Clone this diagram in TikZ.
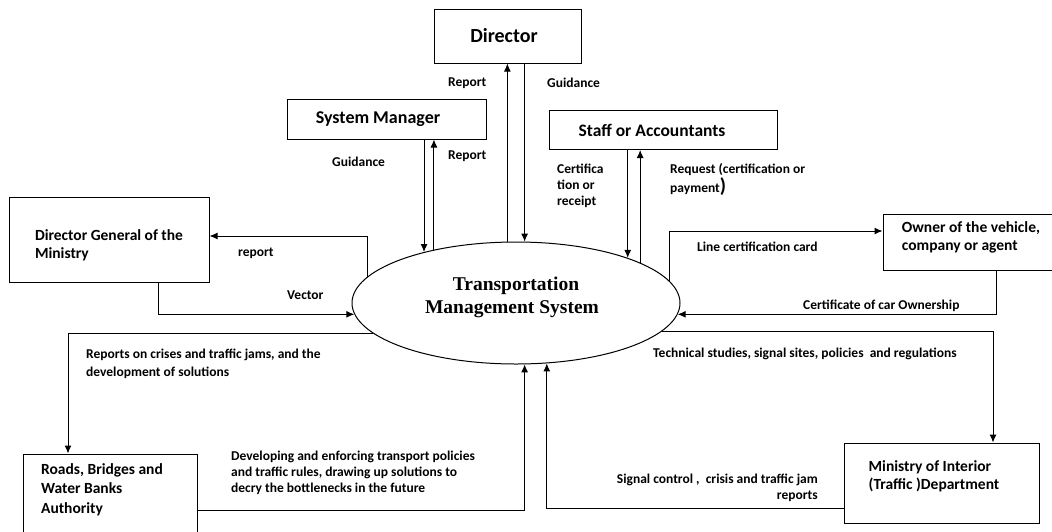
\documentclass[tikz,border=0pt]{standalone}
\usepackage{fontspec}
\setmainfont{Carlito}
\newfontfamily\tmsfont{Liberation Serif}
\usetikzlibrary{shapes.geometric}
\usetikzlibrary{positioning}
\usetikzlibrary{arrows.meta}

\tikzset{
  entity/.style={draw, rectangle, line width=1pt, inner sep=0pt, align=left,
    font=\fontsize{15.5}{18}\selectfont\bfseries},
  flow/.style={-{Latex[length=8pt,width=7pt]}, line width=1pt},
  lbl/.style={inner sep=0pt, align=left, anchor=west,
    font=\fontsize{13.5}{16}\selectfont\bfseries},
}

\begin{document}
\begin{tikzpicture}[x=1pt, y=-1pt]
   \useasboundingbox (0,0) rectangle (1052,531);

   % the system
   \node[draw, ellipse, line width=1pt, minimum width=328pt, minimum height=122pt,
     inner sep=0pt, align=center, font=\tmsfont\fontsize{19.5}{23}\selectfont\bfseries]
     (tms) at (516,303) {Transportation\\Management System\rule{8pt}{0pt}\\[-8pt]};

   % external entities
   \node[entity, minimum width=147pt, minimum height=54pt, align=center,
     font=\fontsize{20}{20}\selectfont\bfseries] (dir) at (508,36) {Director\hspace*{8pt}};
   \node[entity, minimum width=199pt, minimum height=40pt,
     font=\fontsize{18}{20}\selectfont\bfseries] (sm) at (387,119) {System Manager\hspace*{18pt}};
   \node[entity, minimum width=228pt, minimum height=39pt,
     font=\fontsize{17.5}{20}\selectfont\bfseries] (sta) at (663,130) {Staff or Accountants\hspace*{22pt}};
   \node[entity, minimum width=200pt, minimum height=85pt] (dgm) at (109,240)
     {\rule{0pt}{21.5pt}Director General of the\\Ministry};
   \node[entity, minimum width=176pt, minimum height=56pt] (own) at (971,242)
     {Owner of the vehicle,\\company or agent\\[-6pt]};
   \node[entity, minimum width=174pt, minimum height=80pt, font=\fontsize{15.5}{19.5}\selectfont\bfseries]
     (rba) at (110,494) {Roads, Bridges and\hspace*{16pt}\\Water Banks\\Authority\\[-8pt]};
   \node[entity, minimum width=195pt, minimum height=80pt] (mid) at (942,483)
     {Ministry of Interior\\(Traffic )Department\rule{16pt}{0pt}\\[-2pt]};

   % flows with director and system manager
   \draw[flow] (tms.98) -- (tms.98 |- dir.south);
   \draw[flow] (tms.82 |- dir.south) -- (tms.82);
   \draw[flow] (sm.south -| tms.151) -- (tms.151);
   \draw[flow] (tms.147) -- (tms.147 |- sm.south);
   \node[lbl] (l-rep1) at (448,83) {Report};
   \node[lbl] (l-gui1) at (547,83) {Guidance};
   \node[lbl] (l-gui2) at (332,162) {Guidance};
   \node[lbl] (l-rep2) at (448,156) {Report};

   % flows with staff
   \draw[flow] (sta.south -| tms.22) -- (tms.22);
   \draw[flow] (tms.18) -- (tms.18 |- sta.south);
   \node[lbl, anchor=north west] (l-cert) at (557,164) {Certifica\\tion or\\receipt};
   \node[lbl, anchor=north west, font=\fontsize{13.5}{19}\selectfont\bfseries] (l-req) at (670,163)
     {Request (certification or\\payment{\fontsize{20}{16}\selectfont)}};

   % flows with director general
   \draw[flow] (tms.170) |- ([yshift=4pt]dgm.east);
   \draw[flow] ([xshift=49pt]dgm.south) |- (tms.184);
   \node[lbl] (l-rep3) at (238,253) {report};
   \node[lbl] (l-vec) at (287,295) {Vector};

   % flows with the vehicle owner
   \draw[flow] (tms.8) |- ([yshift=11pt]own.west);
   \draw[flow] ([xshift=25pt]own.south) |- (tms.356);
   \node[lbl] (l-card) at (697,247) {Line certification card};
   \node[lbl] (l-own) at (803,306) {Certificate of car Ownership};

   % flows with the roads authority
   \draw[flow] (tms.192) -| ([xshift=-42pt]rba.north);
   \draw[flow] ([yshift=-16pt]rba.east) -| (tms.278);
   \node[lbl, anchor=north west, font=\fontsize{13.5}{18}\selectfont\bfseries] (l-cris) at (86,349)
     {Reports on crises and traffic jams, and the\\development of solutions};
   \node[lbl, anchor=north west] (l-dev) at (231,451)
     {Developing and enforcing transport policies\\and traffic rules, drawing up solutions to\\decry the bottlenecks in the future};

   % flows with the ministry of interior
   \draw[flow] (tms.349) -| ([xshift=51pt]mid.north);
   \draw[flow] ([yshift=-25pt]mid.west) -| (tms.297);
   \node[lbl] (l-tech) at (653,354) {Technical studies, signal sites, policies\ \ and regulations};
   \node[lbl, anchor=north east, align=right] (l-sig) at (818,474)
     {Signal control ,\ \ crisis and traffic jam\\reports};
\end{tikzpicture}
\end{document}
